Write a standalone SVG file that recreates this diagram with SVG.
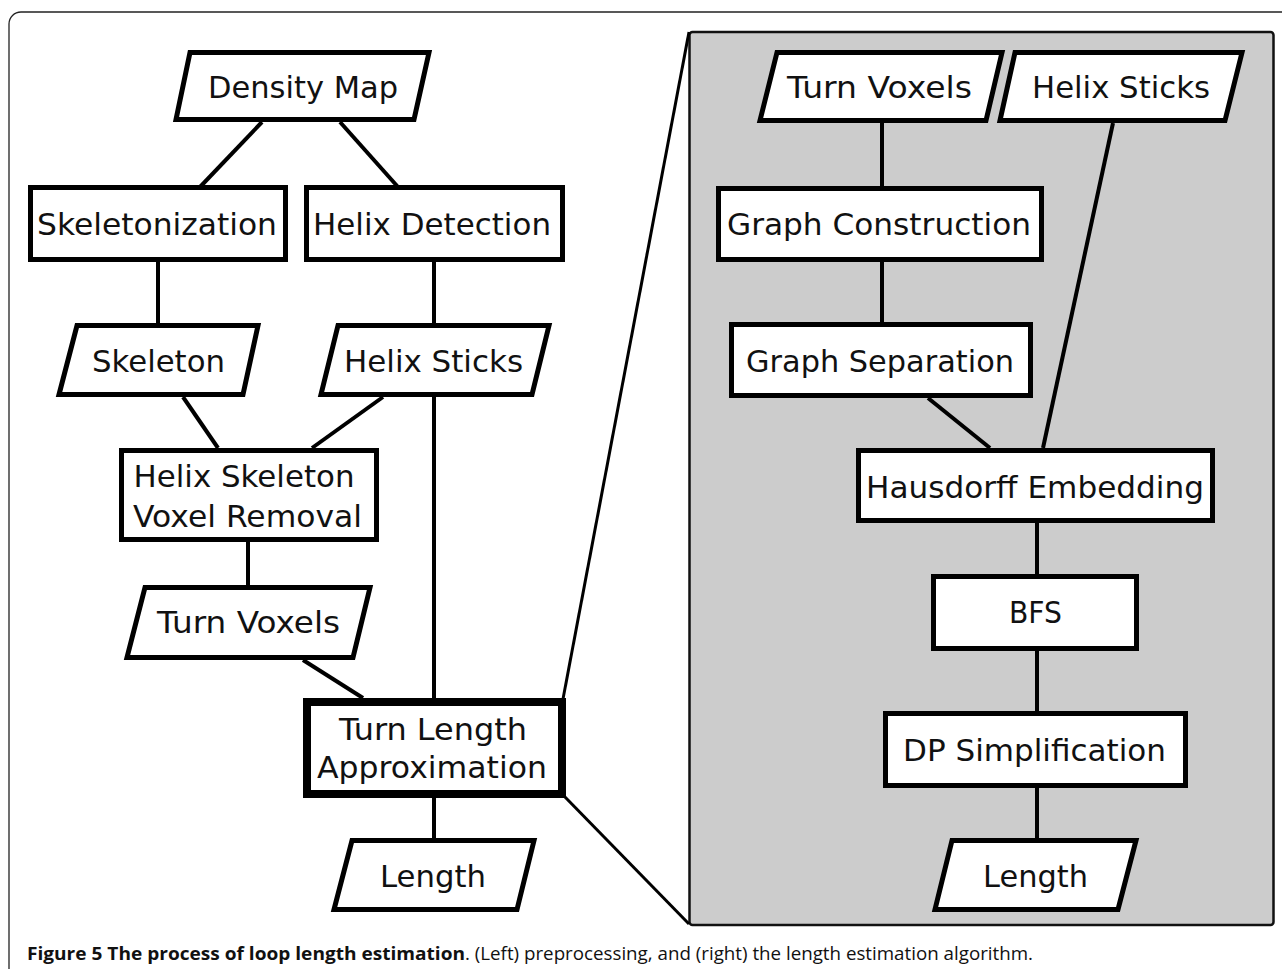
<svg xmlns="http://www.w3.org/2000/svg" width="1282" height="969" viewBox="0 0 1282 969">
<style>
.n{fill:#fff;stroke:#000;stroke-width:5;stroke-linejoin:miter}
.t{font-family:"DejaVu Sans",sans-serif;font-size:31px;fill:#111;text-anchor:middle}
.c{stroke:#000;stroke-width:4;fill:none}
.z{stroke:#000;stroke-width:3;fill:none}
.cap{font-family:"Open Sans","Liberation Sans",sans-serif;font-size:18px;fill:#111}
</style>
<rect x="0" y="0" width="1282" height="969" fill="#fff"/>
<rect id="frame" x="9" y="12" width="1290" height="990" rx="12" fill="#fff" stroke="#222" stroke-width="1.3"/>
<rect id="panel" x="689.5" y="32" width="584" height="893" rx="3" fill="#cccccc" stroke="#111" stroke-width="2.5"/>
<g id="connectors">
<line class="c" x1="262" y1="122" x2="200" y2="187"/>
<line class="c" x1="340" y1="122" x2="398" y2="187"/>
<line class="c" x1="158" y1="262" x2="158" y2="323"/>
<line class="c" x1="434" y1="262" x2="434" y2="323"/>
<line class="c" x1="183" y1="397" x2="218" y2="448"/>
<line class="c" x1="383" y1="397" x2="312" y2="448"/>
<line class="c" x1="248" y1="542" x2="248" y2="586"/>
<line class="c" x1="434" y1="397" x2="434" y2="698"/>
<line class="c" x1="303" y1="660" x2="363" y2="698"/>
<line class="c" x1="434" y1="798" x2="434" y2="838"/>
<line class="z" x1="563" y1="699" x2="689" y2="32"/>
<line class="z" x1="565" y1="797" x2="689" y2="924"/>
<line class="c" x1="882" y1="123" x2="882" y2="186"/>
<line class="c" x1="882" y1="262" x2="882" y2="322"/>
<line class="c" x1="1113" y1="123" x2="1043" y2="448"/>
<line class="c" x1="928" y1="398" x2="990" y2="448"/>
<line class="c" x1="1037" y1="523" x2="1037" y2="574"/>
<line class="c" x1="1037" y1="651" x2="1037" y2="711"/>
<line class="c" x1="1037" y1="788" x2="1037" y2="838"/>
</g>
<g id="density-map"><polygon class="n" points="190,52.5 429,52.5 414,119.5 176,119.5"/><text class="t" x="303" y="98" textLength="190" lengthAdjust="spacingAndGlyphs">Density Map</text></g>
<g id="skeletonization"><rect class="n" x="30.5" y="187.5" width="255" height="72"/><text class="t" x="157" y="235" textLength="240" lengthAdjust="spacingAndGlyphs">Skeletonization</text></g>
<g id="helix-detection"><rect class="n" x="306.5" y="187.5" width="256" height="72"/><text class="t" x="432" y="235" textLength="238" lengthAdjust="spacingAndGlyphs">Helix Detection</text></g>
<g id="skeleton"><polygon class="n" points="77,325.5 258,325.5 243,394.5 59,394.5"/><text class="t" x="158.5" y="372" textLength="133" lengthAdjust="spacingAndGlyphs">Skeleton</text></g>
<g id="helix-sticks-left"><polygon class="n" points="338,325.5 549,325.5 532,394.5 321,394.5"/><text class="t" x="433.5" y="372" textLength="179" lengthAdjust="spacingAndGlyphs">Helix Sticks</text></g>
<g id="hsvr"><rect class="n" x="121.5" y="450.5" width="255" height="89"/><text class="t" x="247.5" y="487" textLength="221" lengthAdjust="spacingAndGlyphs" style="text-anchor:start" dx="-114">Helix Skeleton</text><text class="t" x="247.5" y="527" textLength="229" lengthAdjust="spacingAndGlyphs">Voxel Removal</text></g>
<g id="turn-voxels-left"><polygon class="n" points="145,587.5 370,587.5 353,657.5 127,657.5"/><text class="t" x="248.5" y="633" textLength="183" lengthAdjust="spacingAndGlyphs">Turn Voxels</text></g>
<g id="tla"><rect x="307" y="702" width="255" height="92" fill="#fff" stroke="#000" stroke-width="8"/><text class="t" x="433" y="740" textLength="188" lengthAdjust="spacingAndGlyphs">Turn Length</text><text class="t" x="432" y="778" textLength="230" lengthAdjust="spacingAndGlyphs">Approximation</text></g>
<g id="length-left"><polygon class="n" points="352,840.5 534,840.5 517,909.5 334,909.5"/><text class="t" x="433" y="887" textLength="106" lengthAdjust="spacingAndGlyphs">Length</text></g>
<g id="turn-voxels-right"><polygon class="n" points="777,52.5 1002,52.5 986,120.5 760,120.5"/><text class="t" x="879.5" y="98" textLength="185" lengthAdjust="spacingAndGlyphs">Turn Voxels</text></g>
<g id="helix-sticks-right"><polygon class="n" points="1015,52.5 1242,52.5 1225,120.5 1000,120.5"/><text class="t" x="1121" y="98" textLength="178" lengthAdjust="spacingAndGlyphs">Helix Sticks</text></g>
<g id="graph-construction"><rect class="n" x="718.5" y="188.5" width="323" height="71"/><text class="t" x="879" y="235" textLength="304" lengthAdjust="spacingAndGlyphs">Graph Construction</text></g>
<g id="graph-separation"><rect class="n" x="731.5" y="324.5" width="299" height="71"/><text class="t" x="880" y="372" textLength="268" lengthAdjust="spacingAndGlyphs">Graph Separation</text></g>
<g id="hausdorff"><rect class="n" x="858.5" y="450.5" width="354" height="70"/><text class="t" x="1035" y="498" textLength="338" lengthAdjust="spacingAndGlyphs">Hausdorff Embedding</text></g>
<g id="bfs"><rect class="n" x="933.5" y="576.5" width="203" height="72"/><text class="t" x="1035.5" y="623" textLength="53" lengthAdjust="spacingAndGlyphs">BFS</text></g>
<g id="dp"><rect class="n" x="885.5" y="713.5" width="300" height="72"/><text class="t" x="1034.5" y="761" textLength="263" lengthAdjust="spacingAndGlyphs">DP Simplification</text></g>
<g id="length-right"><polygon class="n" points="952,840.5 1136,840.5 1118,909.5 935,909.5"/><text class="t" x="1035.5" y="887" textLength="105" lengthAdjust="spacingAndGlyphs">Length</text></g>
<g id="caption">
<text class="cap" x="27" y="960" font-weight="bold" textLength="438" lengthAdjust="spacingAndGlyphs">Figure 5 The process of loop length estimation</text>
<text class="cap" x="465" y="960" textLength="568" lengthAdjust="spacingAndGlyphs">. (Left) preprocessing, and (right) the length estimation algorithm.</text>
</g>
</svg>
